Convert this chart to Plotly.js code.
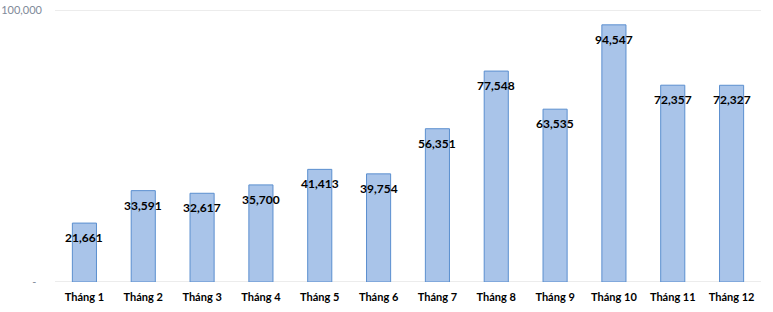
<!DOCTYPE html>
<html>
<head>
<meta charset="utf-8">
<script src="https://cdn.plot.ly/plotly-3.0.1.min.js"></script>
<style>html,body{margin:0;padding:0;background:#fff;}#chart{width:773px;height:312px;}</style>
</head>
<body>
<div id="chart"></div>
<script>
const categories = ["Tháng 1","Tháng 2","Tháng 3","Tháng 4","Tháng 5","Tháng 6","Tháng 7","Tháng 8","Tháng 9","Tháng 10","Tháng 11","Tháng 12"];
const values = [21661, 33591, 32617, 35700, 41413, 39754, 56351, 77548, 63535, 94547, 72357, 72327];
const tickVals = [0, 100000];
const tickLabels = ["-  ", "100,000"];

const fmt = v => v.toLocaleString("en-US");

const trace = {
  type: "bar",
  x: categories,
  y: values,
  marker: {color: "#a9c4e9", line: {color: "#5b8fcf", width: 1}},
  hoverinfo: "none"
};

const annotations = categories.map((c, i) => ({
  x: c, y: values[i], xref: "x", yref: "y",
  text: fmt(values[i]),
  showarrow: false,
  yanchor: "top", yshift: -5,
  font: {family: "Lato, 'Open Sans', sans-serif", size: 12, color: "#000", weight: "bold"}
}));

const gridShapes = tickVals.map(v => ({
  type: "line", xref: "paper", yref: "y",
  x0: 0, x1: 1, y0: v, y1: v,
  line: {color: "#d9d9d9", width: 1},
  layer: "below"
}));

const layout = {
  width: 773, height: 312,
  margin: {l: 55, r: 12, t: 10, b: 30},
  paper_bgcolor: "#fff", plot_bgcolor: "#fff",
  bargap: 0.59,
  showlegend: false,
  font: {family: "Lato, 'Open Sans', sans-serif"},
  annotations: annotations,
  shapes: gridShapes,
  xaxis: {
    type: "category",
    showgrid: false, zeroline: false, showline: false,
    ticks: "",
    tickfont: {size: 11, color: "#000", weight: "bold"},
    ticklabelstandoff: 7
  },
  yaxis: {
    range: [0, 100000],
    tickvals: tickVals, ticktext: tickLabels,
    showgrid: false,
    zeroline: false,
    showline: false, ticks: "",
    tickfont: {size: 11, color: "#7f8a99"},
    ticklabelstandoff: 12
  }
};

Plotly.newPlot("chart", [trace], layout, {displayModeBar: false, staticPlot: true});
</script>
</body>
</html>
